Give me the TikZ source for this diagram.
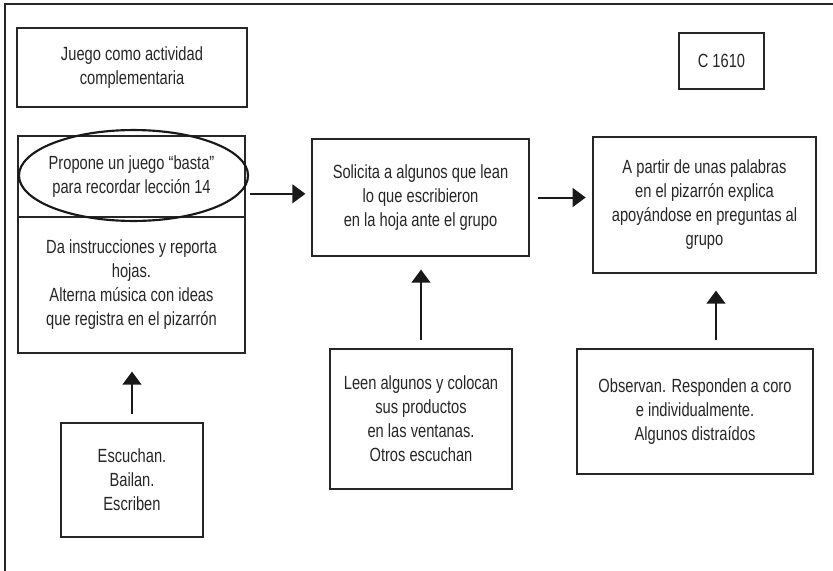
\documentclass[tikz,border=0pt]{standalone}
\usepackage{fontspec}
\setmainfont{Liberation Sans}[FakeStretch=0.77]
\usetikzlibrary{arrows.meta}

\begin{document}
\begin{tikzpicture}[
    x=0.75pt,
    y=-0.75pt,
    font=\fontsize{14.3}{18}\selectfont,
    box/.style={
        draw=black!85,
        line width=0.9pt,
        rectangle,
        align=center,
        inner sep=0pt,
        text=black!85
    },
    arr/.style={
        -{Triangle[width=14pt,length=9.75pt]},
        line width=1.5pt,
        black!90
    }
]

\useasboundingbox (0,0) rectangle (833,571);

\draw[line width=0.9pt, black!85]
    (5,571) -- (5,4) -- (833,4);

\node[box, minimum width=172.5pt, minimum height=59.25pt] (juego) at (132,67.5)
    {Juego como actividad\\complementaria};

\node[box, minimum width=63.75pt, minimum height=42pt] (clave) at (721.5,61)
    {C 1610};

\node[box, minimum width=170.25pt, minimum height=60.75pt] (propone) at (131.5,176.5)
    {Propone un juego “basta”\\para recordar lección 14};

\node[box, minimum width=170.25pt, minimum height=102pt] (instruye) at (131.5,285)
    {Da instrucciones y reporta\\hojas.\\Alterna música con ideas\\que registra en el pizarrón};

\node[box, minimum width=162.75pt, minimum height=87.75pt] (solicita) at (420.5,197.5)
    {Solicita a algunos que lean\\lo que escribieron\\en la hoja ante el grupo};

\node[box, minimum width=167.25pt, minimum height=102pt] (explica) at (704.5,205)
    {A partir de unas palabras\\en el pizarrón explica\\apoyándose en preguntas al\\grupo};

\node[box, minimum width=106.5pt, minimum height=85.5pt] (escuchan) at (132,480)
    {Escuchan.\\Bailan.\\Escriben};

\node[box, minimum width=136.5pt, minimum height=105pt] (leen) at (421,419)
    {Leen algunos y colocan\\sus productos\\en las ventanas.\\Otros escuchan};

\node[box, minimum width=177pt, minimum height=93.75pt] (observan) at (695,411.5)
    {Observan. Responden a coro\\e individualmente.\\Algunos distraídos};

\draw[line width=1.6pt, black!90]
    (133.5,175.5) ellipse [x radius=85.9pt, y radius=34.1pt];

\draw[arr, shorten <=3pt, shorten >=4.5pt]
    ([yshift=-13pt]propone.east) --
    ([yshift=-13pt]propone.east -| solicita.west);

\draw[arr, shorten <=6pt, shorten >=5pt]
    (solicita.east) --
    (explica.west |- solicita.east);

\draw[arr, shorten <=6pt, shorten >=13.5pt]
    (escuchan.north) --
    (escuchan.north |- instruye.south);

\draw[arr, shorten <=6pt, shorten >=9.75pt]
    (leen.north) --
    (leen.north |- solicita.south);

\draw[arr, shorten <=6pt, shorten >=12.75pt]
    ([xshift=15.75pt]observan.north) --
    ([xshift=15.75pt]observan.north |- explica.south);

\end{tikzpicture}
\end{document}
